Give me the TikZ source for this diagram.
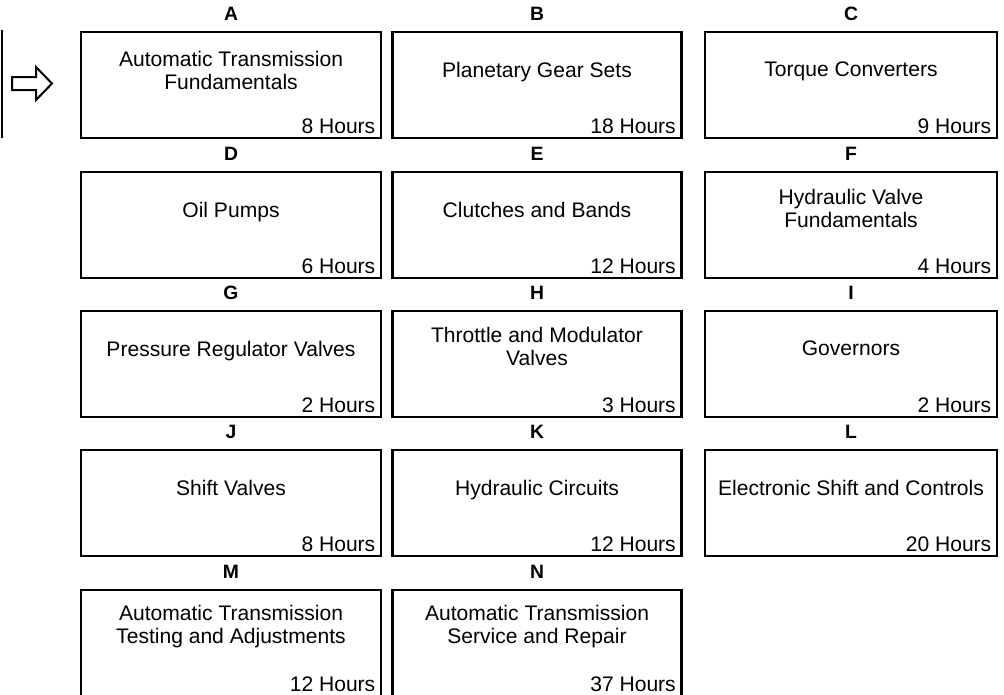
\documentclass[tikz,border=0pt]{standalone}
\usepackage{fontspec}
\setmainfont{Liberation Sans}
\usetikzlibrary{calc,positioning}

\begin{document}
\begin{tikzpicture}[x=0.75pt,y=-0.75pt,
    module/.style={draw,line width=1.6pt,inner sep=0pt,minimum height=106*0.75pt},
    letter/.style={font=\fontsize{14.5}{16}\selectfont\bfseries,anchor=base,inner sep=0pt},
    topic/.style={font=\fontsize{15.8}{16.9}\selectfont,align=center,anchor=north,inner sep=0pt},
    hours/.style={font=\fontsize{15.8}{16.9}\selectfont,anchor=base east,inner sep=0pt}]
  \clip (0,0) rectangle (1004,694);
  % start marker on the left
  \draw[line width=1.8pt] (2,30) -- (2,138);
  \draw[line width=1.5pt,line join=miter]
     (12,77) -- (36,77) -- (36,67) -- (52,83.5) -- (36,100) -- (36,90) -- (12,90) -- cycle;
  % course modules, row by row (\dy = gap from box top to first text line)
  \foreach \id/\cx/\cy/\w/\dy/\txt/\hrs in {
      A/231/85/300/20/{Automatic Transmission\\Fundamentals}/8,
      B/537/85/289/31/{Planetary Gear Sets}/18,
      C/851/85/292/31/{Torque Converters}/9,
      D/231/225/300/31/{Oil Pumps}/6,
      E/537/225/289/31/{Clutches and Bands}/12,
      F/851/225/292/18/{Hydraulic Valve\\Fundamentals}/4,
      G/231/364/300/31/{Pressure Regulator Valves}/2,
      H/537/364/289/17/{Throttle and Modulator\\Valves}/3,
      I/851/364/292/31/{Governors}/2,
      J/231/503/300/31/{Shift Valves}/8,
      K/537/503/289/31/{Hydraulic Circuits}/12,
      L/851/503/292/31/{Electronic Shift and Controls}/20,
      M/231/643/300/16/{Automatic Transmission\\Testing and Adjustments}/12,
      N/537/643/289/16/{Automatic Transmission\\Service and Repair}/37}{
    \node[module,minimum width=\w*0.75pt] (\id) at (\cx,\cy) {};
    \node[letter] (\id-tag) at ($(\id.north)+(0,-10)$) {\id};
    \node[topic] (\id-name) at ($(\id.north)+(0,\dy)$) {\txt};
    \node[hours] (\id-time) at ($(\id.south east)+(-6.5,-6)$) {\hrs{} Hours};
  }
\end{tikzpicture}
\end{document}
